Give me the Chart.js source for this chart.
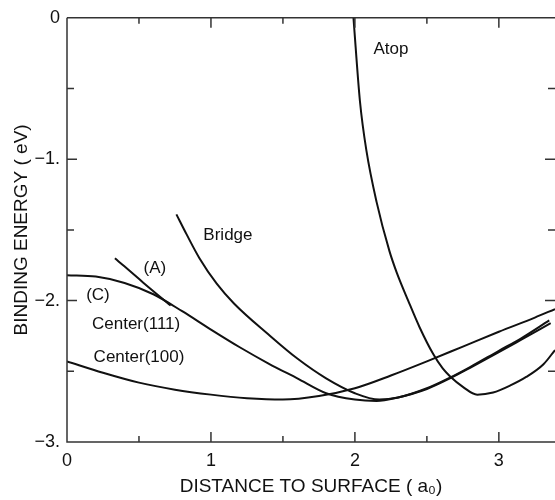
<!DOCTYPE html>
<html>
<head>
<meta charset="utf-8">
<script src="https://cdn.jsdelivr.net/npm/chart.js@4.4.1/dist/chart.umd.min.js"></script>
<style>
  html, body { margin: 0; padding: 0; background: #fff; }
  #wrap { width: 555px; height: 500px; }
</style>
</head>
<body>
<div id="wrap"><canvas id="chart" width="555" height="500"></canvas></div>
<script>
// distance to surface (a0) vs binding energy (eV)
const atopX = [1.99, 2.035, 2.08, 2.15, 2.24, 2.29, 2.37, 2.45, 2.545, 2.61, 2.66, 2.75, 2.85, 2.96, 3.08, 3.19, 3.31, 3.39];
const atopY = [0, -0.59, -0.94, -1.30, -1.65, -1.80, -2.00, -2.19, -2.38, -2.48, -2.535, -2.61, -2.665, -2.65, -2.60, -2.54, -2.45, -2.35];

const bridgeX = [0.76, 0.83, 0.92, 1.04, 1.16, 1.4, 1.6, 1.8, 2.0, 2.17, 2.3, 2.5, 2.66, 2.8, 3.0, 3.15, 3.35];
const bridgeY = [-1.39, -1.53, -1.70, -1.88, -2.02, -2.24, -2.41, -2.55, -2.655, -2.70, -2.685, -2.62, -2.545, -2.47, -2.355, -2.27, -2.14];

const aX = [0.333, 0.53, 0.72];
const aY = [-1.70, -1.873, -2.035];

const center111X = [0, 0.2, 0.4, 0.6, 0.8, 1.0, 1.2, 1.4, 1.6, 1.8, 2.0, 2.15, 2.3, 2.5, 2.66, 2.8, 3.0, 3.15, 3.36];
const center111Y = [-1.82, -1.83, -1.875, -1.955, -2.075, -2.205, -2.33, -2.445, -2.55, -2.655, -2.70, -2.71, -2.685, -2.625, -2.55, -2.475, -2.365, -2.28, -2.16];

const center100X = [0, 0.25, 0.5, 0.75, 1.0, 1.25, 1.5, 1.75, 2.0, 2.25, 2.5, 2.75, 3.0, 3.25, 3.39];
const center100Y = [-2.43, -2.51, -2.58, -2.63, -2.665, -2.69, -2.70, -2.675, -2.62, -2.53, -2.43, -2.325, -2.22, -2.12, -2.06];

const xTickValues = [0, 1, 2, 3];
const xTickLabels = ['0', '1', '2', '3'];
const yTickValues = [0, -1, -2, -3];
const yTickLabels = ['0', '\u22121.', '\u22122.', '\u22123.'];
const xMinorTicks = [0.5, 1.5, 2.5];
const yMinorTicks = [-0.5, -1.5, -2.5];

// curve names, placed in data units
const curveLabels = ['Atop', 'Bridge', '(A)', '(C)', 'Center(111)', 'Center(100)'];
const labelX = [2.25, 1.118, 0.61, 0.215, 0.48, 0.50];
const labelY = [-0.225, -1.54, -1.775, -1.965, -2.17, -2.40];

const toPoints = (xs, ys) => xs.map((x, i) => ({ x, y: ys[i] }));

const lineStyle = {
  borderColor: '#111',
  borderWidth: 2,
  pointRadius: 0,
  fill: false,
  cubicInterpolationMode: 'monotone'
};

const frame = {
  id: 'frame',
  afterDatasetsDraw(chart) {
    const { ctx, chartArea: a, scales: { x, y } } = chart;
    ctx.save();
    ctx.strokeStyle = '#333';
    ctx.lineWidth = 1.5;
    ctx.beginPath();
    ctx.moveTo(a.left, a.top); ctx.lineTo(a.right, a.top);
    ctx.moveTo(a.left, a.top); ctx.lineTo(a.left, a.bottom);
    ctx.lineTo(a.right, a.bottom);
    const tick = (vals, len) => {
      vals.forEach(v => {
        const px = x.getPixelForValue(v);
        ctx.moveTo(px, a.bottom); ctx.lineTo(px, a.bottom - len);
        ctx.moveTo(px, a.top); ctx.lineTo(px, a.top + len);
      });
    };
    const ytick = (vals, len) => {
      vals.forEach(v => {
        const py = y.getPixelForValue(v);
        ctx.moveTo(a.left, py); ctx.lineTo(a.left + len, py);
        ctx.moveTo(a.right, py); ctx.lineTo(a.right - len, py);
      });
    };
    tick(xTickValues, 10); tick(xMinorTicks, 6);
    ytick(yTickValues, 10); ytick(yMinorTicks, 7);
    ctx.stroke();

    ctx.fillStyle = '#111';
    ctx.font = '17px "Liberation Sans", Arial, sans-serif';
    ctx.textAlign = 'center';
    ctx.textBaseline = 'middle';
    curveLabels.forEach((t, i) => {
      ctx.fillText(t, x.getPixelForValue(labelX[i]), y.getPixelForValue(labelY[i]));
    });
    ctx.restore();
  }
};

Chart.defaults.font.family = '"Liberation Sans", Arial, sans-serif';
Chart.defaults.color = '#111';

new Chart(document.getElementById('chart'), {
  type: 'line',
  data: {
    datasets: [
      { label: 'Atop', data: toPoints(atopX, atopY), ...lineStyle },
      { label: 'Bridge', data: toPoints(bridgeX, bridgeY), ...lineStyle },
      { label: '(A)', data: toPoints(aX, aY), ...lineStyle },
      { label: 'Center(111)', data: toPoints(center111X, center111Y), ...lineStyle },
      { label: 'Center(100)', data: toPoints(center100X, center100Y), ...lineStyle }
    ]
  },
  options: {
    responsive: false,
    animation: false,
    devicePixelRatio: 1,
    layout: { padding: { top: 16, right: 0, bottom: 0, left: 0 } },
    plugins: { legend: { display: false }, tooltip: { enabled: false } },
    scales: {
      x: {
        type: 'linear',
        min: 0,
        max: 3.39,
        afterBuildTicks: s => { s.ticks = xTickValues.map(v => ({ value: v })); },
        afterFit: s => { s.height = 58; },
        grid: { display: false, drawTicks: false },
        border: { display: false },
        ticks: { padding: 8, font: { size: 18 }, callback: (v, i) => xTickLabels[i] },
        title: { display: true, text: 'DISTANCE TO SURFACE ( a\u2080)', font: { size: 19 }, padding: { top: 0, bottom: 2 } }
      },
      y: {
        type: 'linear',
        min: -3,
        max: 0,
        afterBuildTicks: s => { s.ticks = yTickValues.map(v => ({ value: v })); },
        afterFit: s => { s.width = 67; },
        grid: { display: false, drawTicks: false },
        border: { display: false },
        ticks: { padding: 7, font: { size: 18 }, callback: (v, i) => yTickLabels[i] },
        title: { display: true, text: 'BINDING ENERGY ( eV)', font: { size: 19 }, padding: { top: 10, bottom: 0 } }
      }
    }
  },
  plugins: [frame]
});
</script>
</body>
</html>
